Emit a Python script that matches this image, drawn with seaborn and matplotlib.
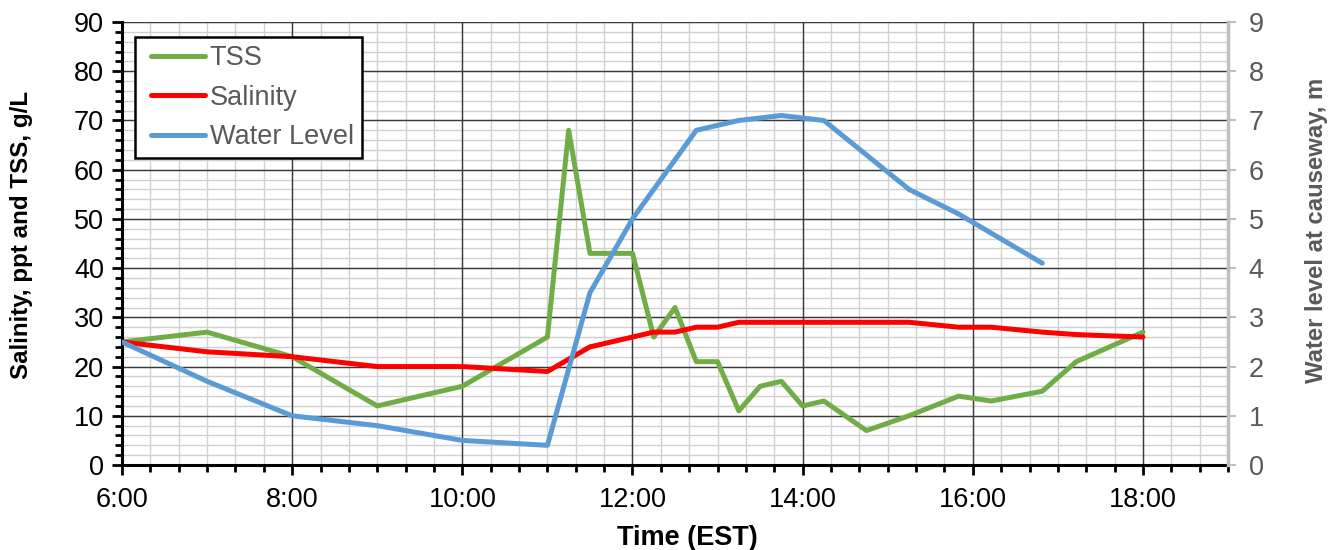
import numpy as np
import pandas as pd
import matplotlib
matplotlib.use("Agg")
import matplotlib.pyplot as plt
from matplotlib.ticker import MultipleLocator, FuncFormatter
from matplotlib.legend_handler import HandlerLine2D
import seaborn as sns

# Sampling times (EST) and measured values
tss_time = ["6:00", "7:00", "8:00", "9:00", "10:00", "11:00", "11:15", "11:30",
            "12:00", "12:15", "12:30", "12:45", "13:00", "13:15", "13:30", "13:45",
            "14:00", "14:15", "14:45", "15:15", "15:50", "16:13", "16:49", "17:13", "18:00"]
tss = [25, 27, 22, 12, 16, 26, 68, 43,
       43, 26, 32, 21, 21, 11, 16, 17,
       12, 13, 7, 10, 14, 13, 15, 21, 27]

sal_time = ["6:00", "7:00", "8:00", "9:00", "10:00", "11:00", "11:30", "12:00",
            "12:15", "12:30", "12:45", "13:00", "13:15", "15:15", "15:50", "16:13",
            "16:49", "17:13", "18:00"]
salinity = [25, 23, 22, 20, 20, 19, 24, 26,
            27, 27, 28, 28, 29, 29, 28, 28,
            27, 26.5, 26]

wl_time = ["6:00", "7:00", "8:00", "9:00", "10:00", "11:00", "11:30", "12:00",
           "12:45", "13:15", "13:45", "14:15", "15:15", "15:50", "16:49"]
water_level = [2.5, 1.7, 1.0, 0.8, 0.5, 0.4, 3.5, 5.0,
               6.8, 7.0, 7.1, 7.0, 5.6, 5.1, 4.1]


def to_hours(labels):
    out = []
    for s in labels:
        h, m = s.split(":")
        out.append(int(h) + int(m) / 60.0)
    return out


df_tss = pd.DataFrame({"t": to_hours(tss_time), "v": tss})
df_sal = pd.DataFrame({"t": to_hours(sal_time), "v": salinity})
df_wl = pd.DataFrame({"t": to_hours(wl_time), "v": water_level})

sns.set_theme(style="white")
plt.rcParams["font.family"] = ["Liberation Sans", "DejaVu Sans"]

GREEN = "#70ad47"
RED = "#ff0000"
BLUE = "#5b9bd5"
GRAY = "#595959"
LW = 3.6
TICK_FS = 19.5

fig = plt.figure(figsize=(13.38, 5.5), dpi=100)
rect = [0.0912, 0.1545, 0.8266, 0.8055]

# background axes carrying only the fine grid, so the major grid stays on top
axg = fig.add_axes(rect, zorder=-1)
axg.set_xlim(6, 19)
axg.set_ylim(0, 90)
axg.xaxis.set_major_locator(MultipleLocator(1 / 3))
axg.yaxis.set_major_locator(MultipleLocator(2))
axg.grid(True, color="#d0d0d0", linewidth=1.0)
axg.tick_params(left=False, bottom=False, labelleft=False, labelbottom=False)
for s in axg.spines.values():
    s.set_visible(False)

ax = fig.add_axes(rect)
ax.patch.set_visible(False)
ax2 = ax.twinx()

ax.set_xlim(6, 19)
ax.set_ylim(0, 90)
ax.xaxis.set_major_locator(MultipleLocator(2))
ax.xaxis.set_minor_locator(MultipleLocator(1 / 3))
ax.yaxis.set_major_locator(MultipleLocator(10))
ax.yaxis.set_minor_locator(MultipleLocator(2))
ax.grid(which="major", color="#3a3a3a", linewidth=1.0)
ax.grid(which="minor", visible=False)
ax.set_axisbelow(True)

sns.lineplot(data=df_tss, x="t", y="v", ax=ax, color=GREEN, linewidth=LW,
             label="TSS", solid_capstyle="round")
sns.lineplot(data=df_sal, x="t", y="v", ax=ax, color=RED, linewidth=LW,
             label="Salinity", solid_capstyle="round")
sns.lineplot(data=df_wl, x="t", y="v", ax=ax2, color=BLUE, linewidth=LW,
             label="Water Level", solid_capstyle="round")

ax2.set_ylim(0, 9)
ax2.yaxis.set_major_locator(MultipleLocator(1))
ax2.grid(False)

ax.xaxis.set_major_formatter(FuncFormatter(lambda v, p: f"{int(round(v))}:00"))

ax.tick_params(axis="x", which="major", direction="out", length=7, width=2,
               color="black", labelsize=TICK_FS, labelcolor="black", pad=9, bottom=True)
ax.tick_params(axis="x", which="minor", direction="out", length=5, width=2,
               color="black", bottom=True)
ax.tick_params(axis="y", which="major", direction="out", length=7, width=2,
               color="black", labelsize=TICK_FS, labelcolor="black", left=True, pad=6)
ax.tick_params(axis="y", which="minor", direction="out", length=5, width=2,
               color="black", left=True)
ax2.tick_params(axis="y", direction="out", length=6, width=1.5, color="#bfbfbf",
                labelsize=TICK_FS, labelcolor=GRAY, right=True, pad=9)

for s in ["top", "right"]:
    ax.spines[s].set_visible(False)
ax.spines["left"].set_color("black")
ax.spines["left"].set_linewidth(2.2)
ax.spines["bottom"].set_color("black")
ax.spines["bottom"].set_linewidth(2.2)
ax2.spines["top"].set_visible(False)
ax2.spines["left"].set_visible(False)
ax2.spines["bottom"].set_visible(False)
ax2.spines["right"].set_color("#bfbfbf")
ax2.spines["right"].set_linewidth(2.5)

ax.set_xlabel("Time (EST)", fontsize=19.5, fontweight="bold", color="black")
ax.xaxis.set_label_coords(0.511, -0.135)
ax.set_ylabel("Salinity, ppt and TSS, g/L", fontsize=17.4, fontweight="bold",
              color="black")
ax.yaxis.set_label_coords(-0.0805, 0.519)
ax2.set_ylabel("Water level at causeway, m", fontsize=17.2, fontweight="bold",
               color=GRAY)
ax2.yaxis.set_label_coords(1.0696, 0.530)

# single legend combining both axes
h1, l1 = ax.get_legend_handles_labels()
h2, l2 = ax2.get_legend_handles_labels()
if ax2.get_legend() is not None:
    ax2.get_legend().remove()
leg = ax.legend(h1 + h2, l1 + l2, loc="upper left", bbox_to_anchor=(0.0118, 0.966),
                fontsize=19.5, frameon=True, fancybox=False, framealpha=1,
                edgecolor="black", handlelength=2.3, labelspacing=0.5,
                borderpad=0.3, handletextpad=0.15, borderaxespad=0,
                handler_map={type(h1[0]): HandlerLine2D(xpad=0.3)})
leg.get_frame().set_linewidth(1.8)
for t in leg.get_texts():
    t.set_color(GRAY)
leg.set_zorder(10)

fig.savefig("out.png", dpi=100)
